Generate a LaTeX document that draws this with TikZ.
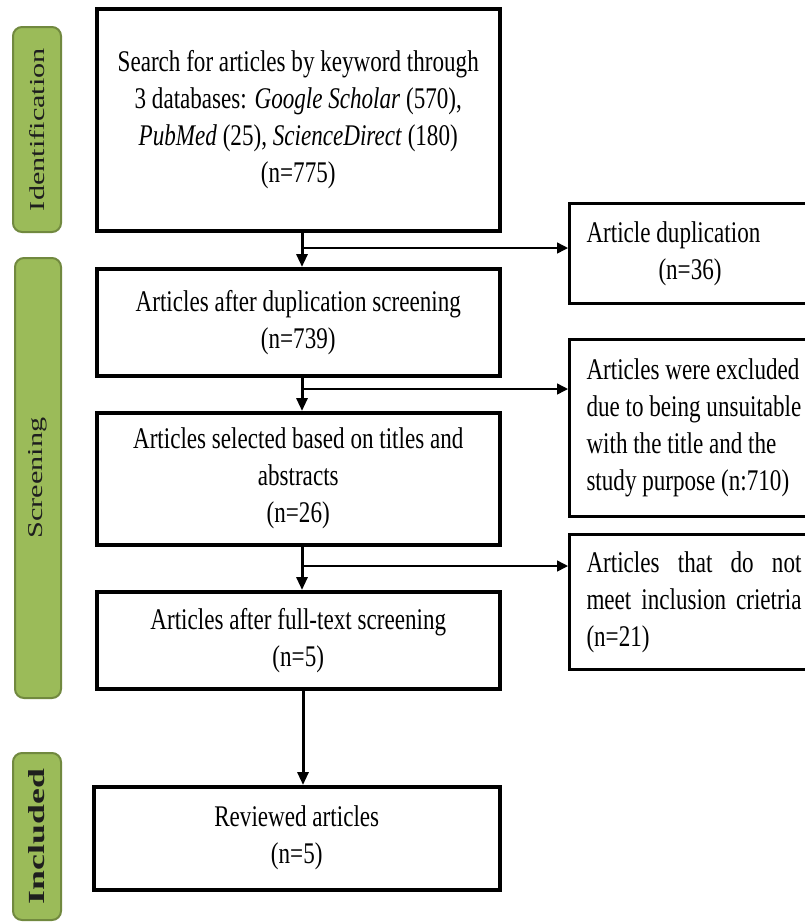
\documentclass[tikz,border=0pt]{standalone}
\usepackage{fontspec}
\setmainfont{Liberation Serif}[FakeStretch=0.77]
\newfontfamily\sidefont{Liberation Serif}
\usetikzlibrary{arrows.meta}
\definecolor{sidegreen}{HTML}{9BBB59}
\definecolor{sideedge}{HTML}{71893F}
\definecolor{sidetext}{HTML}{1E1E1E}
\begin{document}
\begin{tikzpicture}[x=1pt,y=-1pt,
  mainbox/.style={draw=black, line width=3.5pt, fill=white, inner sep=4pt, anchor=north west,
    align=center, font=\fontsize{30}{37}\selectfont},
  sidebox/.style={draw=black, line width=3pt, fill=white, inner ysep=4pt, inner xsep=17pt,
    text width=226pt, minimum width=260, anchor=north west,
    font=\fontsize{30}{37}\selectfont},
  phase/.style={draw=sideedge, line width=2pt, fill=sidegreen, rounded corners=9pt,
    rotate=90, inner sep=0pt, text=sidetext, font=\sidefont},
  flow/.style={line width=3pt, -{Triangle[length=13pt,width=11pt]}},
  branch/.style={line width=1.5pt, -{Triangle[length=11pt,width=11pt]}}
]
\clip (0,0) rectangle (805,922);
\fill[white] (0,0) rectangle (805,922);

% phase labels
\node[phase, minimum width=205, minimum height=48] (p1) at (37,129.5)
  {\resizebox{163pt}{15pt}{Identification}};
\node[phase, minimum width=440, minimum height=46] (p2) at (38,478)
  {\resizebox{121pt}{14pt}{Screening}};
\node[phase, minimum width=167, minimum height=48] (p3) at (37,836.5)
  {\resizebox{135pt}{16pt}{\bfseries Included}};

% main boxes
\node[mainbox, minimum width=403, minimum height=222] (b1) at (95,7)
  {Search for articles by keyword through\\3 databases: \textit{Google Scholar} (570),\\\textit{PubMed} (25), \textit{ScienceDirect} (180)\\(n=775)};
\node[mainbox, minimum width=403, minimum height=107] (b2) at (95,267)
  {Articles after duplication screening\\(n=739)};
\node[mainbox, minimum width=403, minimum height=132] (b3) at (95,411)
  {Articles selected based on titles and\\abstracts\\(n=26)};
\node[mainbox, minimum width=403, minimum height=97] (b4) at (95,590)
  {Articles after full-text screening\\(n=5)};
\node[mainbox, minimum width=406, minimum height=103] (b5) at (92,785)
  {Reviewed articles\\(n=5)};

% side boxes
\node[sidebox, minimum height=100, align=flush left] (r1) at (568,202)
  {Article duplication\\\hspace*{72pt}(n=36)};
\node[sidebox, minimum height=177, align=flush left] (r2) at (568,338)
  {Articles were excluded\\due to being unsuitable\\with the title and the\\study purpose (n:710)};
\node[sidebox, minimum height=135, minimum width=249, text width=215pt, align=justify] (r3) at (568,533)
  {Articles that do not\linebreak meet inclusion crietria\linebreak (n=21)};

% junctions
\coordinate (j1) at (302,248);
\coordinate (j2) at (302,389);
\coordinate (j3) at (302,566);
\coordinate (j4) at (303,700);

% connectors
\draw[flow] (b1.south -| j1) -- (b2.north -| j1);
\draw[flow] (b2.south -| j2) -- (b3.north -| j2);
\draw[flow] (b3.south -| j3) -- (b4.north -| j3);
\draw[flow] (b4.south -| j4) -- (b5.north -| j4);
\draw[branch] (j1) -- (r1.west |- j1);
\draw[branch] (j2) -- (r2.west |- j2);
\draw[branch] (j3) -- (r3.west |- j3);
\end{tikzpicture}
\end{document}
